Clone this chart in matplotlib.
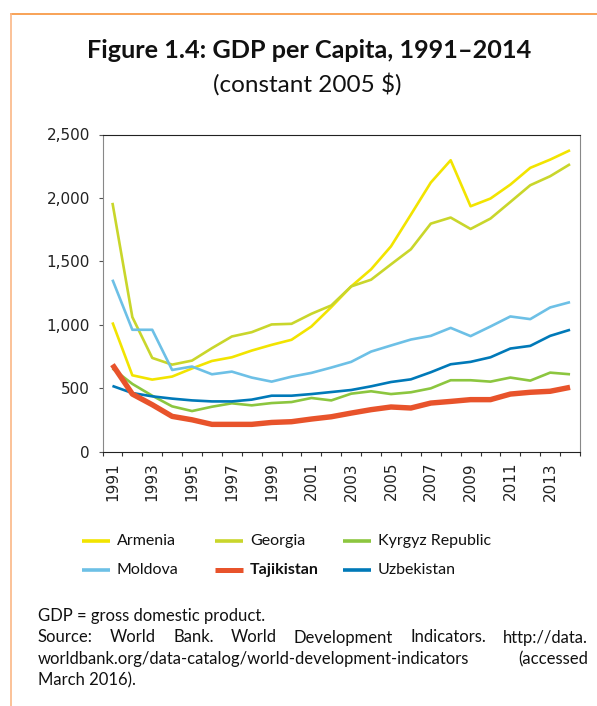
import matplotlib
matplotlib.use("Agg")
import matplotlib.pyplot as plt
from matplotlib.lines import Line2D
from matplotlib.ticker import FuncFormatter, FixedLocator

# GDP per capita, constant 2005 US$
years = list(range(1991, 2015))
armenia = [1018, 601, 567, 591, 655, 714, 743, 796, 841, 881, 986, 1139,
           1302, 1437, 1618, 1868, 2121, 2297, 1934, 1995, 2105, 2237, 2302, 2376]
georgia = [1961, 1060, 738, 685, 717, 815, 907, 941, 1002, 1007, 1086, 1152,
           1302, 1355, 1476, 1595, 1797, 1845, 1755, 1837, 1968, 2100, 2171, 2266]
kyrgyz = [655, 533, 440, 356, 319, 353, 380, 364, 382, 390, 422, 403,
          456, 475, 453, 467, 498, 562, 562, 551, 583, 559, 622, 609]
moldova = [1355, 960, 960, 643, 670, 609, 630, 583, 551, 590, 620, 662,
           707, 788, 836, 883, 912, 975, 910, 986, 1065, 1044, 1136, 1178]
tajikistan = [685, 453, 369, 277, 250, 214, 214, 214, 229, 235, 256, 274,
              303, 330, 351, 343, 382, 395, 409, 409, 453, 467, 475, 506]
uzbekistan = [517, 461, 435, 417, 403, 395, 395, 409, 440, 440, 453, 469,
              485, 514, 548, 569, 625, 688, 707, 743, 812, 833, 912, 960]

names = ["Armenia", "Georgia", "Kyrgyz Republic", "Moldova", "Tajikistan", "Uzbekistan"]
series = [armenia, georgia, kyrgyz, moldova, tajikistan, uzbekistan]
colors = ["#F2E400", "#C9D62B", "#8CC63F", "#6DC0E6", "#E8532B", "#0079B8"]
widths = [1.9, 1.9, 1.9, 1.9, 3.9, 1.9]

yticks = [0, 500, 1000, 1500, 2000, 2500]
xlabel_years = list(range(1991, 2015, 2))

title = "Figure 1.4: GDP per Capita, 1991\u20132014"
subtitle = "(constant 2005 $)"
note = "GDP = gross domestic product."
source_lines = ["Source: World Bank. World Development Indicators. http://data.",
                "worldbank.org/data-catalog/world-development-indicators (accessed",
                "March 2016)."]

W, H = 597, 706
fig = plt.figure(figsize=(W / 100, H / 100), dpi=100)


def fx(px):
    return px / W


def fy(py):
    return 1 - py / H


ax = fig.add_axes([fx(102.5), fy(451.5), fx(580) - fx(102.5), fy(134.5) - fy(451.5)])

for name, vals, c, lw in zip(names, series, colors, widths):
    ax.plot(years, vals, color=c, lw=lw, solid_joinstyle="round",
            solid_capstyle="butt", zorder=3 if name == "Tajikistan" else 2)

ax.set_xlim(1990.5, 2014.5)
ax.set_ylim(0, 2500)
ax.yaxis.set_major_locator(FixedLocator(yticks))
ax.yaxis.set_major_formatter(FuncFormatter(lambda v, p: f"{int(v):,}"))

# tick marks between categories, labels on every other year
ax.xaxis.set_major_locator(FixedLocator([y - 0.5 for y in years] + [2014.5]))
ax.xaxis.set_major_formatter(FuncFormatter(lambda v, p: ""))
ax.xaxis.set_minor_locator(FixedLocator(xlabel_years))
ax.xaxis.set_minor_formatter(FuncFormatter(lambda v, p: str(int(v))))
ax.tick_params(axis="x", which="major", direction="out", length=3.2, width=0.8, color="#333333")
ax.tick_params(axis="x", which="minor", length=0, pad=7.5, labelrotation=90,
               labelsize=11, labelcolor="#222222")
ax.tick_params(axis="y", direction="out", length=2.6, width=0.8, color="#555555",
               pad=6.5, labelsize=11, labelcolor="#222222")
for lab in ax.get_xticklabels(minor=True) + ax.get_yticklabels():
    lab.set_family("DejaVu Sans")

ax.spines["left"].set_color("#888888")
ax.spines["right"].set_color("#888888")
ax.spines["top"].set_color("#222222")
ax.spines["bottom"].set_color("#222222")
for s in ax.spines.values():
    s.set_linewidth(0.8)

# orange frame along top and left edge
fig.add_artist(Line2D([fx(11), 1], [fy(14.3), fy(14.3)], color="#F7923A", lw=1.2,
                      transform=fig.transFigure))
fig.add_artist(Line2D([fx(11), fx(11)], [fy(14.3), 0], color="#FBB786", lw=1.2,
                      transform=fig.transFigure))

fig.text(fx(309.5), fy(50), title, ha="center", va="center", family="Lato",
         weight="bold", fontsize=18.2, color="#111111")
fig.text(fx(307.5), fy(84), subtitle, ha="center", va="center", family="Lato",
         fontsize=17.5, color="#111111")

# legend, two rows of three
leg_x = [82, 215, 343]
leg_y = [541, 570]
for i, (name, c, lw) in enumerate(zip(names, colors, widths)):
    x0 = leg_x[i % 3]
    y0 = leg_y[i // 3]
    fig.add_artist(Line2D([fx(x0), fx(x0 + 28)], [fy(y0), fy(y0)], color=c,
                          lw=2.6 if lw < 3 else 3.6, solid_capstyle="butt",
                          transform=fig.transFigure))
    fig.text(fx(x0 + 35), fy(y0), name, ha="left", va="center", family="Lato",
             fontsize=11.5, color="#111111",
             weight="bold" if name == "Tajikistan" else "normal")

# notes, justified between the left and right margins
fs = dict(family="Lato", fontsize=12, color="#111111", va="center")
x_left, x_right = 38, 588
line_y = [616, 637.5, 659, 680.5]
fig.text(fx(x_left), fy(line_y[0]), note, ha="left", **fs)
renderer = fig.canvas.get_renderer()
for k, line in enumerate(source_lines):
    y0 = line_y[k + 1]
    if k == len(source_lines) - 1:
        fig.text(fx(x_left), fy(y0), line, ha="left", **fs)
        continue
    words = line.split()
    arts = [fig.text(0, fy(y0), w, ha="left", **fs) for w in words]
    ws = [a.get_window_extent(renderer).width for a in arts]
    gap = (x_right - x_left - sum(ws)) / (len(words) - 1)
    x = x_left
    for a, w in zip(arts, ws):
        a.set_x(fx(x))
        x += w + gap

fig.savefig("out.png", dpi=100)
